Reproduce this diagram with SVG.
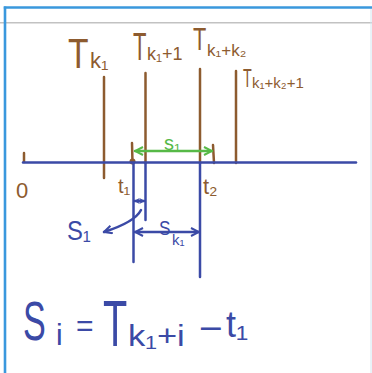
<svg xmlns="http://www.w3.org/2000/svg" width="372" height="373" viewBox="0 0 372 373">
<style>
.br{stroke:#8d5b2f;stroke-width:2.5;fill:none;stroke-linecap:round}
.bl{stroke:#3b4aa6;stroke-width:2.5;fill:none;stroke-linecap:round}
.gr{stroke:#57b947;stroke-width:2.5;fill:none;stroke-linecap:round}
text{font-family:"Liberation Sans","DejaVu Sans",sans-serif}
.tb{fill:#8d5b2f}
.tl{fill:#3b4aa6}
.tg{fill:#57b947}
</style>
<defs>
<marker id="ag" viewBox="0 0 10 10" refX="9" refY="5" markerWidth="4" markerHeight="4" orient="auto-start-reverse" markerUnits="strokeWidth">
<path d="M1,1 L9,5 L1,9" fill="none" stroke="#57b947" stroke-width="2"/>
</marker>
<marker id="ab" viewBox="0 0 10 10" refX="9" refY="5" markerWidth="4" markerHeight="4" orient="auto-start-reverse" markerUnits="strokeWidth">
<path d="M1,1 L9,5 L1,9" fill="none" stroke="#3b4aa6" stroke-width="2"/>
</marker>
<marker id="abs" viewBox="0 0 10 10" refX="9" refY="5" markerWidth="2.2" markerHeight="2.2" orient="auto-start-reverse" markerUnits="strokeWidth">
<path d="M1,1 L9,5 L1,9" fill="none" stroke="#3b4aa6" stroke-width="2"/>
</marker>
</defs>
<rect width="372" height="373" fill="#ffffff"/>
<g id="frame">
<line x1="0" y1="22.7" x2="372" y2="22.7" stroke="#c2c2c2" stroke-width="1.5"/>
<line x1="371" y1="8" x2="371" y2="373" stroke="#d4e6f1" stroke-width="1"/>
<line x1="3.8" y1="7.5" x2="372" y2="7.5" stroke="#3a98dd" stroke-width="2.6"/>
<line x1="5" y1="6.5" x2="5" y2="373" stroke="#3a98dd" stroke-width="2.6"/>
</g>
<g id="brown-lines">
<line class="br" x1="104" y1="77" x2="104" y2="178"/>
<line class="br" x1="145.5" y1="73" x2="145.5" y2="163"/>
<line class="br" x1="200" y1="69" x2="200" y2="163"/>
<line class="br" x1="236" y1="71" x2="236" y2="163"/>
<line class="br" x1="24" y1="153" x2="24" y2="162" stroke-width="3"/>
<line class="br" x1="132" y1="143" x2="132.5" y2="163" stroke-width="3.5"/>
<circle cx="132.5" cy="161.5" r="3" fill="#8d5b2f"/>
<line class="br" x1="213" y1="145" x2="214" y2="163" stroke-width="3"/>
</g>
<g id="axis">
<line class="bl" x1="23" y1="162.5" x2="356" y2="162.5"/>
</g>
<g id="connectors">
<line class="bl" x1="133.5" y1="163" x2="133.5" y2="262"/>
<line class="bl" x1="145.5" y1="163" x2="145.5" y2="220"/>
<line class="bl" x1="200" y1="163" x2="200" y2="277"/>
<line class="gr" x1="135" y1="151" x2="212" y2="151" marker-start="url(#ag)" marker-end="url(#ag)"/>
<line class="bl" x1="135" y1="201" x2="144" y2="201" stroke-width="1.8" marker-start="url(#abs)" marker-end="url(#abs)"/>
<line class="bl" x1="135" y1="232" x2="199" y2="232" marker-start="url(#ab)" marker-end="url(#ab)"/>
<path class="bl" d="M141,210 Q135,222 104,232" marker-end="url(#ab)"/>
</g>
<g id="label-tk1">
<text class="tb" transform="translate(68,68) scale(0.8,1)" font-size="42">T</text>
<text class="tb" x="90" y="68" font-size="22">k₁</text>
</g>
<g id="label-tk1p1">
<text class="tb" transform="translate(133,60) scale(0.58,1)" font-size="38">T</text>
<text class="tb" x="147" y="60" font-size="18">k₁+1</text>
</g>
<g id="label-tk1k2">
<text class="tb" transform="translate(193,50) scale(0.68,1)" font-size="32">T</text>
<text class="tb" x="207" y="56" font-size="17">k₁+k₂</text>
</g>
<g id="label-tk1k2p1">
<text class="tb" transform="translate(243,87) scale(0.55,1)" font-size="26">T</text>
<text class="tb" x="252" y="88" font-size="15">k₁+k₂+1</text>
</g>
<g id="labels-axis">
<text class="tb" x="16" y="198" font-size="22">0</text>
<text class="tb" x="118" y="193" font-size="20">t₁</text>
<text class="tb" x="203" y="194" font-size="22">t₂</text>
<text class="tg" x="164" y="150" font-size="20">s₁</text>
<text class="tl" transform="translate(67,240) scale(0.85,1)" font-size="28">S₁</text>
<text class="tl" transform="translate(159,235) scale(0.82,1)" font-size="21">S</text>
<text class="tl" x="172" y="245" font-size="15">k₁</text>
</g>
<g id="formula">
<text class="tl" transform="translate(23,340) scale(0.61,1)" font-size="56">S</text>
<text class="tl" x="56" y="345" font-size="30">i</text>
<text class="tl" x="76" y="336" font-size="30">=</text>
<text class="tl" transform="translate(103,346) scale(0.62,1)" font-size="64">T</text>
<text class="tl" transform="translate(128,346) scale(1.15,1)" font-size="30">k₁+i</text>
<text class="tl" transform="translate(199,340) scale(1.2,1)" font-size="34">−</text>
<text class="tl" x="226" y="337" font-size="36">t₁</text>
</g>
</svg>
